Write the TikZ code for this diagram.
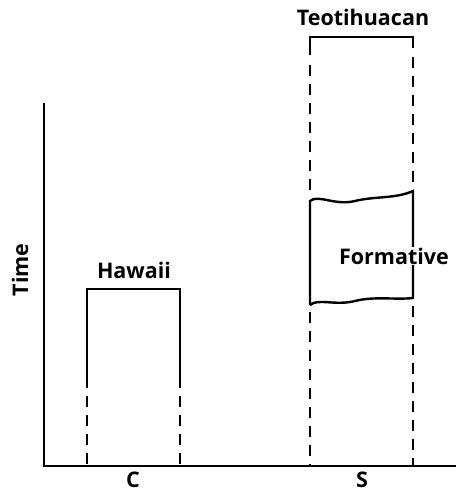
\documentclass[tikz,border=0pt]{standalone}
\usepackage{fontspec}
\setmainfont{Open Sans}
\begin{document}
\begin{tikzpicture}[x=1pt,y=-1pt,
  solidln/.style={line width=2.4pt},
  dashln/.style={line width=2.4pt,dash pattern=on 11pt off 8pt},
  lbl/.style={font=\fontsize{21.5}{24}\selectfont\bfseries,inner sep=1pt}]
\useasboundingbox (0,0) rectangle (456,493);
% axes
\coordinate (ytop) at (44,103);
\coordinate (orig) at (44,466);
\coordinate (xend) at (456,466);
\draw[solidln] (ytop) -- (orig) -- (xend);
\node[lbl,rotate=90] (time) at (20,270) {Time};
\node[lbl,anchor=base,inner sep=0pt] (c) at (133,487) {C};
\node[lbl,anchor=base,inner sep=0pt] (s) at (362,487) {S};
% Hawaii
\coordinate (hl) at (87,289);
\coordinate (hr) at (180,289);
\coordinate (hls) at (87,388);
\coordinate (hrs) at (180,388);
\coordinate (hlb) at (87,466);
\coordinate (hrb) at (180,466);
\draw[solidln,line join=miter] (hls) -- (hl) -- (hr) -- (hrs);
\draw[dashln] (87,396) -- (hlb);
\draw[dashln] (180,396) -- (hrb);
\node[lbl] (hawaii) at (134,270) {Hawaii};
% Teotihuacan
\coordinate (tl) at (310,37);
\coordinate (tr) at (413,37);
\draw[solidln] (310,55) -- (tl) -- (tr) -- (413,48);
\draw[dashln] (310,65) -- (310,194);
\draw[dashln] (413,57) -- (413,188);
\node[lbl] (teo) at (363,17) {Teotihuacan};
% Formative
\coordinate (fl) at (310,201);
\coordinate (fr) at (413,191);
\coordinate (flb) at (310,305);
\coordinate (frb) at (413,298);
\draw[solidln] (flb) -- (fl) .. controls (318,194) and (335,206) .. (355,201)
   .. controls (375,196) and (395,199) .. (fr) -- (frb)
   .. controls (395,300) and (375,296) .. (355,301)
   .. controls (335,306) and (318,298) .. (flb);
\node[lbl,fill=white] (form) at (394,256) {Formative};
\draw[dashln] (310,312) -- (310,466);
\draw[dashln] (413,306) -- (413,466);
\end{tikzpicture}
\end{document}
